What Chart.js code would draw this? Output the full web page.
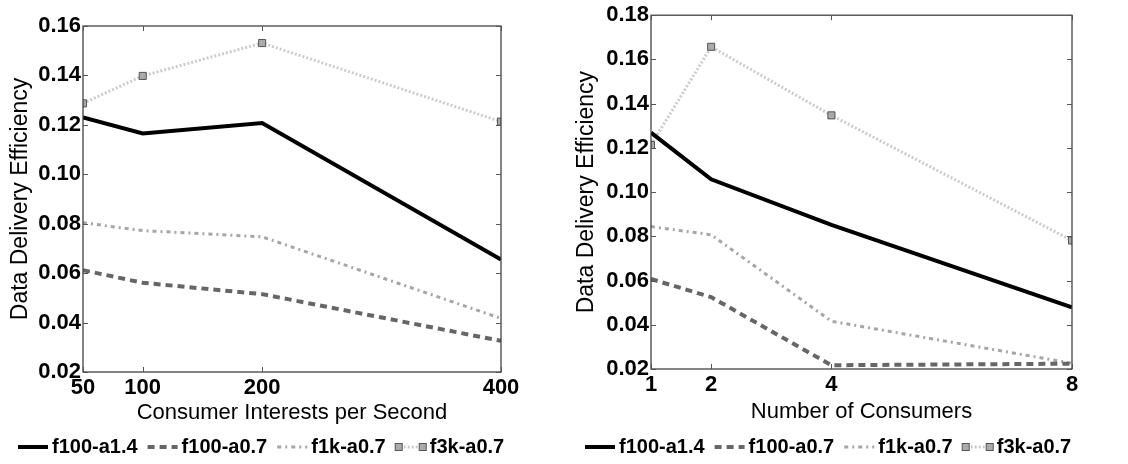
<!DOCTYPE html>
<html>
<head>
<meta charset="utf-8">
<script src="https://cdn.jsdelivr.net/npm/chart.js@4/dist/chart.umd.min.js"></script>
<style>
  html, body { margin: 0; padding: 0; background: #fff; }
  #wrap { position: relative; width: 1128px; height: 464px; }
  .box { position: absolute; top: 0; height: 464px; }
  #b1 { left: 0; width: 560px; }
  #b2 { left: 560px; width: 568px; }
</style>
</head>
<body>
<div id="wrap">
  <div class="box" id="b1"><canvas id="c1"></canvas></div>
  <div class="box" id="b2"><canvas id="c2"></canvas></div>
</div>
<script>
// ---- data ----
const seriesNames = ['f100-a1.4', 'f100-a0.7', 'f1k-a0.7', 'f3k-a0.7'];

const leftX = [50, 100, 200, 400];
const leftF100a14 = [0.1230, 0.1165, 0.1207, 0.0655];
const leftF100a07 = [0.0612, 0.0561, 0.0515, 0.0326];
const leftF1ka07  = [0.0804, 0.0772, 0.0747, 0.0417];
const leftF3ka07  = [0.1287, 0.1398, 0.1531, 0.1213];
const leftYTicks  = [0.02, 0.04, 0.06, 0.08, 0.10, 0.12, 0.14, 0.16];

const rightX = [1, 2, 4, 8];
const rightF100a14 = [0.1269, 0.1058, 0.0852, 0.0479];
const rightF100a07 = [0.0607, 0.0525, 0.0217, 0.0224];
const rightF1ka07  = [0.0844, 0.0807, 0.0416, 0.0226];
const rightF3ka07  = [0.1213, 0.1657, 0.1347, 0.0781];
const rightYTicks  = [0.02, 0.04, 0.06, 0.08, 0.10, 0.12, 0.14, 0.16, 0.18];

const yTitle = 'Data Delivery Efficiency';
const leftXTitle = 'Consumer Interests per Second';
const rightXTitle = 'Number of Consumers';

// ---- styles ----
const FONT = '"Liberation Sans", Arial, Helvetica, sans-serif';
const styles = [
  { color: '#000000', width: 4, dash: [] },
  { color: '#666666', width: 4, dash: [7, 5] },
  { color: '#a6a6a6', width: 3, dash: [4, 4, 2, 4] },
  { color: '#cccccc', width: 3, dash: [2, 2], marker: true }
];

function makeDatasets(xs, seriesArr) {
  return seriesArr.map((vals, i) => {
    const s = styles[i];
    return {
      label: seriesNames[i],
      data: xs.map((x, j) => ({ x: x, y: vals[j] })),
      borderColor: s.color,
      borderWidth: s.width,
      borderDash: s.dash,
      borderCapStyle: 'butt',
      borderJoinStyle: 'miter',
      fill: false,
      tension: 0,
      pointStyle: 'rect',
      pointRadius: s.marker ? 5 : 0,
      pointHoverRadius: s.marker ? 5 : 0,
      pointBackgroundColor: '#aaaaaa',
      pointBorderColor: '#555555',
      pointBorderWidth: 1
    };
  });
}

const framePlugin = {
  id: 'frame',
  afterDraw(chart, args, opts) {
    const ctx = chart.ctx;
    const a = chart.chartArea;
    const xs = chart.scales.x, ys = chart.scales.y;
    ctx.save();
    ctx.strokeStyle = '#333333';
    ctx.lineWidth = 1.2;
    ctx.setLineDash([]);
    ctx.strokeRect(a.left, a.top, a.right - a.left, a.bottom - a.top);
    ctx.strokeStyle = '#555555';
    ctx.lineWidth = 1;
    const L = 5;
    opts.xTicks.forEach(v => {
      const px = Math.round(xs.getPixelForValue(v)) + 0.5;
      ctx.beginPath();
      ctx.moveTo(px, a.bottom); ctx.lineTo(px, a.bottom - L);
      ctx.moveTo(px, a.top); ctx.lineTo(px, a.top + L);
      ctx.stroke();
    });
    opts.yTicks.forEach(v => {
      const py = Math.round(ys.getPixelForValue(v)) + 0.5;
      ctx.beginPath();
      ctx.moveTo(a.left, py); ctx.lineTo(a.left + L, py);
      ctx.moveTo(a.right, py); ctx.lineTo(a.right - L, py);
      ctx.stroke();
    });
    // legend
    const y = opts.legendY;
    let x = opts.legendX;
    ctx.font = 'bold 20px ' + FONT;
    ctx.textBaseline = 'middle';
    ctx.textAlign = 'left';
    const sampleLen = 30;
    chart.data.datasets.forEach((ds, i) => {
      const s = styles[i];
      ctx.save();
      ctx.strokeStyle = s.color;
      ctx.lineWidth = s.width;
      ctx.setLineDash(s.dash);
      ctx.lineCap = 'butt';
      ctx.beginPath();
      ctx.moveTo(x, y); ctx.lineTo(x + sampleLen, y);
      ctx.stroke();
      if (s.marker) {
        ctx.setLineDash([]);
        ctx.fillStyle = '#aaaaaa';
        ctx.strokeStyle = '#555555';
        ctx.lineWidth = 1;
        [x + 3, x + sampleLen - 3].forEach(cx => {
          ctx.fillRect(cx - 3.5, y - 3.5, 7, 7);
          ctx.strokeRect(cx - 3.5, y - 3.5, 7, 7);
        });
      }
      ctx.restore();
      ctx.fillStyle = '#000';
      const tx = x + sampleLen + 4;
      ctx.fillText(ds.label, tx, y);
      x = tx + ctx.measureText(ds.label).width + 10;
    });
    ctx.restore();
  }
};

function makeChart(canvasId, xs, seriesArr, yTicks, xTitle, cfg) {
  return new Chart(document.getElementById(canvasId), {
    type: 'line',
    data: { datasets: makeDatasets(xs, seriesArr) },
    plugins: [framePlugin],
    options: {
      responsive: true,
      maintainAspectRatio: false,
      animation: false,
      events: [],
      layout: { padding: { top: cfg.padTop, right: cfg.padRight, bottom: 30, left: 0 } },
      plugins: {
        legend: { display: false },
        tooltip: { enabled: false },
        frame: { xTicks: xs, yTicks: yTicks, legendX: cfg.legendX, legendY: 447 }
      },
      scales: {
        x: {
          type: 'linear',
          min: xs[0], max: xs[xs.length - 1],
          grid: { display: false, drawTicks: false },
          border: { display: false },
          afterBuildTicks: (s) => { s.ticks = xs.map(v => ({ value: v })); },
          afterFit: (s) => { s.height = cfg.xAxisH; },
          ticks: {
            autoSkip: false, maxRotation: 0, padding: 3,
            color: '#000',
            font: { family: FONT, size: 22, weight: 'bold' },
            callback: (v) => String(v)
          },
          title: {
            display: true, text: xTitle, color: '#000',
            font: { family: FONT, size: 22 },
            padding: { top: 0, bottom: cfg.xTitlePadB }
          }
        },
        y: {
          type: 'linear',
          min: yTicks[0], max: yTicks[yTicks.length - 1],
          grid: { display: false, drawTicks: false },
          border: { display: false },
          afterBuildTicks: (s) => { s.ticks = yTicks.map(v => ({ value: v })); },
          afterFit: (s) => { s.width = cfg.yAxisW; },
          ticks: {
            padding: 2, color: '#000',
            font: { family: FONT, size: 22, weight: 'bold' },
            callback: (v) => Number(v).toFixed(2)
          },
          title: {
            display: true, text: yTitle, color: '#000',
            font: { family: FONT, size: 23 },
            padding: { top: cfg.yTitlePadT, bottom: 0 }
          }
        }
      }
    }
  });
}

makeChart('c1', leftX, [leftF100a14, leftF100a07, leftF1ka07, leftF3ka07], leftYTicks, leftXTitle,
  { padTop: 26, padRight: 59, xAxisH: 62, xTitlePadB: 8, yAxisW: 83, yTitlePadT: 7, legendX: 18 });
makeChart('c2', rightX, [rightF100a14, rightF100a07, rightF1ka07, rightF3ka07], rightYTicks, rightXTitle,
  { padTop: 15, padRight: 56, xAxisH: 65, xTitlePadB: 9, yAxisW: 91, yTitlePadT: 13, legendX: 25 });
</script>
</body>
</html>
